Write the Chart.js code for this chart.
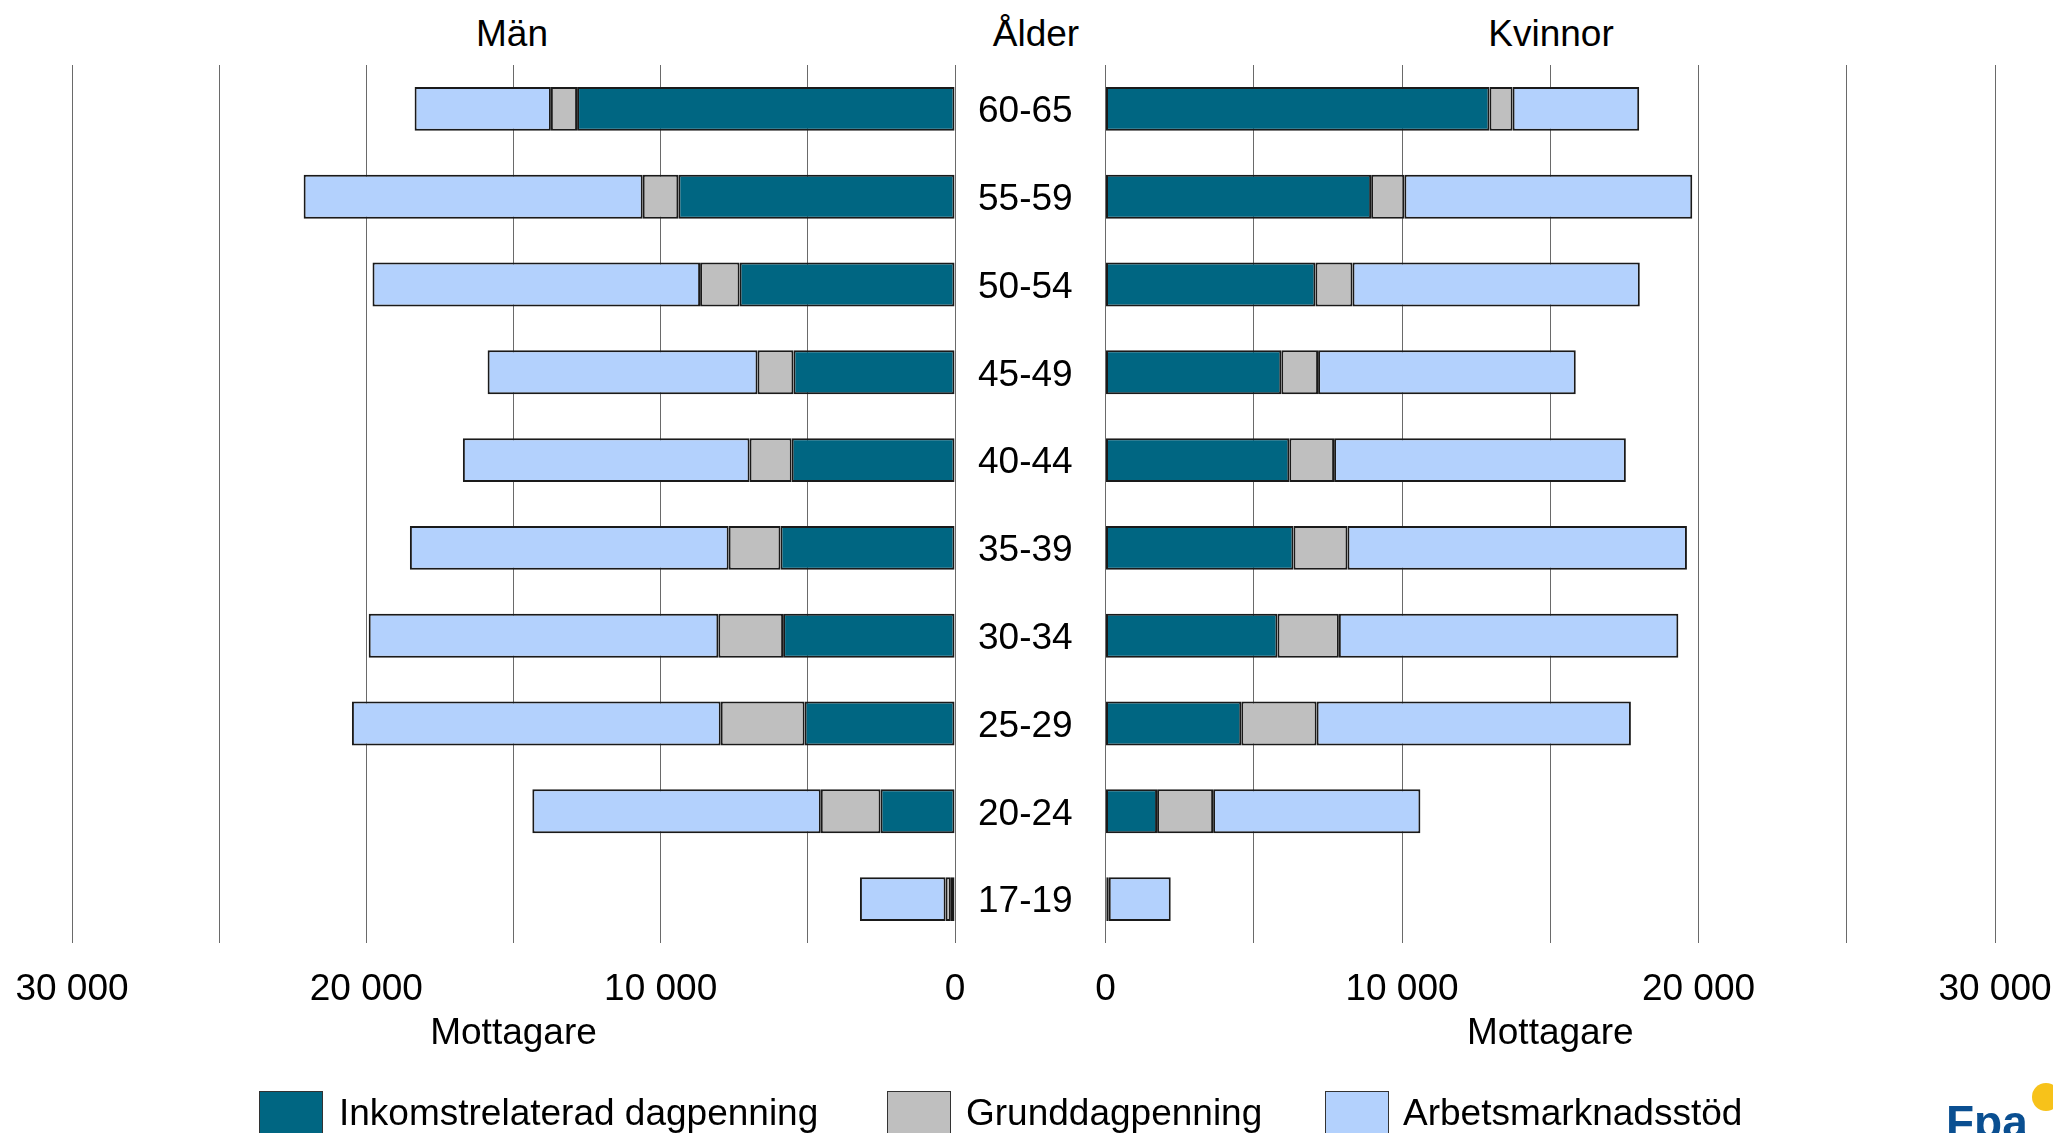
<!DOCTYPE html>
<html>
<head>
<meta charset="utf-8">
<script src="https://cdn.jsdelivr.net/npm/chart.js@4.4.1/dist/chart.umd.min.js"></script>
<style>
html,body{margin:0;padding:0;background:#fff;overflow:hidden;width:2053px;height:1133px;}
body{position:relative;font-family:'Liberation Sans',Arial,sans-serif;color:#000;}
.lbl{position:absolute;font-size:37px;line-height:1;white-space:nowrap;transform:translate(-50%,-50%);}
#men{position:absolute;left:0;top:0;}
#women{position:absolute;left:1050px;top:0;}
.legbox{position:absolute;top:1091px;width:62px;height:46px;border:1px solid #333;}
.legtxt{position:absolute;top:1112px;font-size:37px;line-height:1;white-space:nowrap;transform:translateY(-50%);}
#logo{position:absolute;left:1946px;top:1099px;font-size:46px;line-height:1;font-weight:bold;color:#0a4f91;font-family:'Liberation Sans',Arial,sans-serif;}
#logoDot{position:absolute;left:2032px;top:1083px;width:28px;height:28px;border-radius:50%;background:#f7c21a;}
</style>
</head>
<body>
<div class="lbl" style="left:512px;top:33px;">Män</div>
<div class="lbl" style="left:1036px;top:33px;">Ålder</div>
<div class="lbl" style="left:1551px;top:33px;">Kvinnor</div>

<canvas id="men" width="1105" height="1133"></canvas>
<canvas id="women" width="1003" height="1133"></canvas>

<div class="legbox" style="left:259px;background:#006682;"></div>
<div class="legtxt" style="left:339px;">Inkomstrelaterad dagpenning</div>
<div class="legbox" style="left:887px;background:#bfbfbf;"></div>
<div class="legtxt" style="left:966px;">Grunddagpenning</div>
<div class="legbox" style="left:1325px;background:#b3d1fd;"></div>
<div class="legtxt" style="left:1403px;">Arbetsmarknadsstöd</div>

<div id="logo">Fpa</div>
<div id="logoDot"></div>

<script>
// ---- Data ----
const ageGroups = ['60-65','55-59','50-54','45-49','40-44','35-39','30-34','25-29','20-24','17-19'];
const seriesNames = ['Inkomstrelaterad dagpenning','Grunddagpenning','Arbetsmarknadsstöd'];

const menInkomst = [12840, 9400, 7320, 5490, 5550, 5930, 5840, 5110, 2530, 140];
const menGrund   = [  890, 1210, 1340, 1220, 1430, 1760, 2200, 2850, 2030, 180];
const menArbets  = [ 4630,11520,11130, 9170, 9740,10830,11880,12530, 9800, 2910];

const womenInkomst = [12950, 8960, 7080, 5930, 6200, 6340, 5800, 4580, 1740,   40];
const womenGrund   = [  780, 1120, 1250, 1240, 1510, 1820, 2070, 2540, 1890,   70];
const womenArbets  = [ 4270, 9710, 9690, 8690, 9840,11450,11450,10600, 6990, 2090];

const axisMax = 30000;
const gridStep = 5000;
const labelStep = 10000;

// ---- Styles ----
const COLORS = ['#006682', '#bfbfbf', '#b3d1fd'];
const BORDER = '#1a1a1a';
const FONT = {family: "'Liberation Sans', Arial, sans-serif", size: 37};

Chart.defaults.font.family = FONT.family;
Chart.defaults.font.size = FONT.size;
Chart.defaults.color = '#000';

function fmt(v) {
  return String(v).replace(/\B(?=(\d{3})+(?!\d))/g, ' ');
}

function makeDatasets(a, b, c) {
  return [a, b, c].map((d, i) => ({
    label: seriesNames[i],
    data: d,
    backgroundColor: COLORS[i],
    borderColor: BORDER,
    borderWidth: 2,
    borderSkipped: false,
    barPercentage: 0.5,
    categoryPercentage: 1.0
  }));
}

function xScale(reverse) {
  return {
    type: 'linear',
    stacked: true,
    min: 0,
    max: axisMax,
    reverse: reverse,
    grid: {color: '#6a6a6a', lineWidth: 1, drawTicks: true, tickLength: 25, tickColor: 'rgba(0,0,0,0)'},
    border: {display: false},
    ticks: {
      stepSize: gridStep,
      autoSkip: false,
      maxRotation: 0,
      padding: 0,
      color: '#000',
      font: FONT,
      callback: (v) => (v % labelStep === 0 ? fmt(v) : '')
    },
    title: {
      display: true,
      text: 'Mottagare',
      color: '#000',
      font: FONT,
      padding: {top: 0, bottom: 77}
    },
    afterFit: (s) => { s.height = 190; }
  };
}

const common = {
  responsive: false,
  animation: false,
  indexAxis: 'y',
  plugins: {legend: {display: false}, tooltip: {enabled: false}, title: {display: false}}
};

new Chart(document.getElementById('men'), {
  type: 'bar',
  data: {labels: ageGroups, datasets: makeDatasets(menInkomst, menGrund, menArbets)},
  options: Object.assign({}, common, {
    layout: {padding: {left: 72, right: 0, top: 65, bottom: 0}},
    scales: {
      x: xScale(true),
      y: {
        type: 'category',
        position: 'right',
        stacked: true,
        grid: {display: false, drawTicks: false},
        border: {display: false},
        ticks: {crossAlign: 'center', padding: 23, labelOffset: 3, color: '#000', font: FONT},
        afterFit: (s) => { s.width = 150; }
      }
    }
  })
});

new Chart(document.getElementById('women'), {
  type: 'bar',
  data: {labels: ageGroups, datasets: makeDatasets(womenInkomst, womenGrund, womenArbets)},
  options: Object.assign({}, common, {
    layout: {padding: {left: 55.5, right: 58, top: 65, bottom: 0}},
    scales: {
      x: xScale(false),
      y: {
        type: 'category',
        stacked: true,
        display: false
      }
    }
  })
});
</script>
</body>
</html>
